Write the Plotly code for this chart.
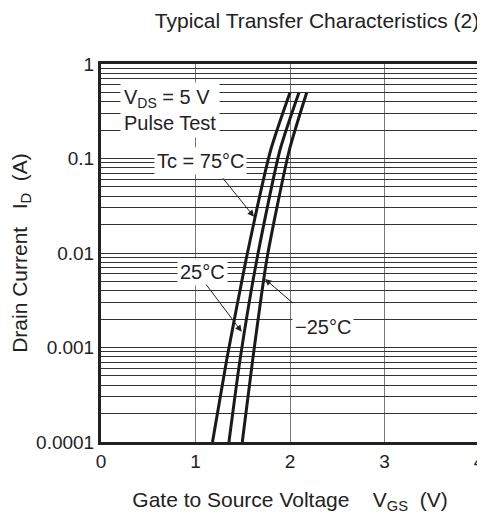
import numpy as np
import plotly.graph_objects as go

# gate voltage (V) vs drain current (A)
id_75 = [0.0001, 0.00074, 0.0084, 0.123, 0.5]
vgs_75 = [1.18, 1.33, 1.534, 1.796, 2.0]
id_25 = [0.0001, 0.00074, 0.0084, 0.123, 0.5]
vgs_25 = [1.354, 1.471, 1.648, 1.894, 2.095]
id_m25 = [0.0001, 0.00074, 0.0084, 0.123, 0.5]
vgs_m25 = [1.495, 1.605, 1.753, 1.993, 2.177]

x_ticks = [0, 1, 2, 3, 4]
decades = [0.0001, 0.001, 0.01, 0.1, 1]
decade_labels = ["0.0001", "0.001", "0.01", "0.1", "1"]

# every 1..9 value in each decade gets a gridline, only decades get a label
y_grid = []
y_text = []
for d, lab in zip(decades[:-1], decade_labels[:-1]):
    for m in range(1, 10):
        y_grid.append(d * m)
        y_text.append(lab if m == 1 else "")
y_grid.append(1)
y_text.append("1")

FONT = "Liberation Sans, Arial, sans-serif"
SP = "\u00a0"

fig = go.Figure()
for vx, iy in [(vgs_75, id_75), (vgs_25, id_25), (vgs_m25, id_m25)]:
    fig.add_trace(go.Scatter(x=vx, y=iy, mode="lines", line=dict(color="#1a1a1a", width=3, shape="spline", smoothing=0.6),
                             showlegend=False, hoverinfo="skip"))

def ann(text, x, y, **kw):
    fig.add_annotation(text=text, x=x, y=y, xref="x", yref="y", showarrow=False, bgcolor="white",
                       font=dict(family=FONT, size=20, color="#222"), **kw)

ann("V<sub>DS</sub> = 5 V<br>Pulse Test", 0.2, -0.487, xanchor="left", align="left", borderpad=3)
ann("Tc = 75°C", 1.048, -1.026, borderpad=2)
ann("25°C", 1.069, -2.201, borderpad=2)
ann("\u221225°C", 2.349, -2.783, borderpad=2)

# leader arrows: (head x, head log y, tail x, tail log y)
arrows = [(1.619, -1.616, 1.277, -1.193), (1.489, -2.833, 1.10, -2.317), (1.735, -2.275, 2.042, -2.54)]
for hx, hy, tx, ty in arrows:
    fig.add_annotation(x=hx, y=hy, ax=tx, ay=ty, xref="x", yref="y", axref="x", ayref="y", text="",
                       showarrow=True, arrowhead=2, arrowsize=1.3, arrowwidth=1, arrowcolor="#222")

# page body has an 8px margin, so the figure is shrunk to avoid scrollbars
fig.update_layout(
    width=477, height=507,
    margin=dict(l=93, r=6, t=56, b=73),
    paper_bgcolor="white", plot_bgcolor="white",
    font=dict(family=FONT, size=19, color="#222"),
    title=dict(text="Typical Transfer Characteristics (2)", x=0.988, xanchor="right", y=1 - 13 / 507, yanchor="middle",
               font=dict(family=FONT, size=21, color="#222")),
    xaxis=dict(range=[0, 4], tickvals=x_ticks, showgrid=True, gridcolor="#777", gridwidth=1, automargin=False,
               showline=True, mirror=True, linecolor="#222", linewidth=3, zeroline=False, ticks="",
               ticklen=0, tickfont=dict(size=19), ticklabeloverflow="allow",
               title=dict(text="Gate to Source Voltage" + SP * 4 + "V<sub>GS</sub>" + SP * 2 + "(V)", standoff=22,
                          font=dict(family=FONT, size=21))),
    yaxis=dict(type="log", range=[-4, 0], tickvals=y_grid, ticktext=y_text, showgrid=True, gridcolor="#333",
               gridwidth=1, showline=True, mirror=True, linecolor="#222", linewidth=3, ticks="", automargin=False,
               tickfont=dict(size=19),
               title=dict(text="Drain Current" + SP * 3 + "I<sub>D</sub>" + SP * 2 + "(A)", standoff=4,
                          font=dict(family=FONT, size=21))),
)

fig.write_html("out.html")
